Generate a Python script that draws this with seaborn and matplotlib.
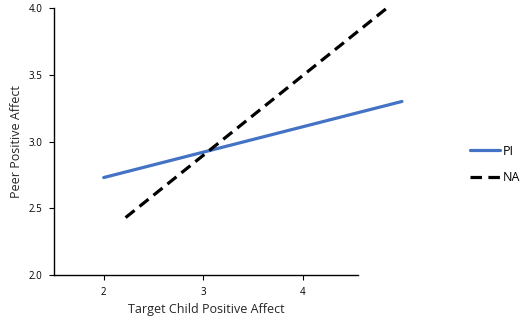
import matplotlib
matplotlib.use("Agg")
import matplotlib.pyplot as plt
import seaborn as sns
import pandas as pd

# Simple slopes of peer positive affect on target child positive affect
pi_x = [2.0, 5.0]
pi_y = [2.73, 3.30]
na_x = [2.22, 4.85]
na_y = [2.43, 4.00]
series_names = ["PI", "NA"]
y_ticks = [2.0, 2.5, 3.0, 3.5, 4.0]
x_ticks = [2, 3, 4]

sns.set_style("white")
plt.rcParams["font.family"] = ["Open Sans", "DejaVu Sans"]

df = pd.concat([
    pd.DataFrame({"x": pi_x, "y": pi_y, "group": series_names[0]}),
    pd.DataFrame({"x": na_x, "y": na_y, "group": series_names[1]}),
])

fig = plt.figure(figsize=(5.32, 3.27), dpi=100)
ax = fig.add_axes([0.1015, 0.159, 0.654, 0.8165])

sns.lineplot(data=df[df.group == "PI"], x="x", y="y", ax=ax, color="#4472C4",
             linewidth=2.3, label="PI", clip_on=False)
sns.lineplot(data=df[df.group == "NA"], x="x", y="y", ax=ax, color="black",
             linewidth=2.3, label="NA", clip_on=False)
ax.lines[1].set_dashes([3.6, 2.0])

ax.set_xlim(1.5, 5.0)
ax.set_ylim(2.0, 4.0)
ax.set_xticks(x_ticks)
ax.set_yticks(y_ticks)
ax.set_yticklabels([f"{v:.1f}" for v in y_ticks])
ax.tick_params(axis="both", labelsize=7, length=3.5, width=0.8, direction="out",
               colors="black", pad=5, left=True, bottom=True)
for s in ["top", "right"]:
    ax.spines[s].set_visible(False)
for s in ["left", "bottom"]:
    ax.spines[s].set_color("black")
    ax.spines[s].set_linewidth(1.0)
ax.spines["bottom"].set_bounds(1.5, 4.56)

ax.set_xlabel("Target Child Positive Affect", fontsize=9)
ax.xaxis.set_label_coords(0.437, -0.105)
ax.set_ylabel("Peer Positive Affect", fontsize=9)
ax.yaxis.set_label_coords(-0.088, 0.5)

leg = ax.legend(loc="center left", bbox_to_anchor=(0.862, 0.497),
                bbox_transform=fig.transFigure, frameon=False, fontsize=9,
                handlelength=2.4, handletextpad=0.2, labelspacing=1.1)
for t in leg.get_texts():
    t.set_color("black")

fig.savefig("out.png", dpi=100)
